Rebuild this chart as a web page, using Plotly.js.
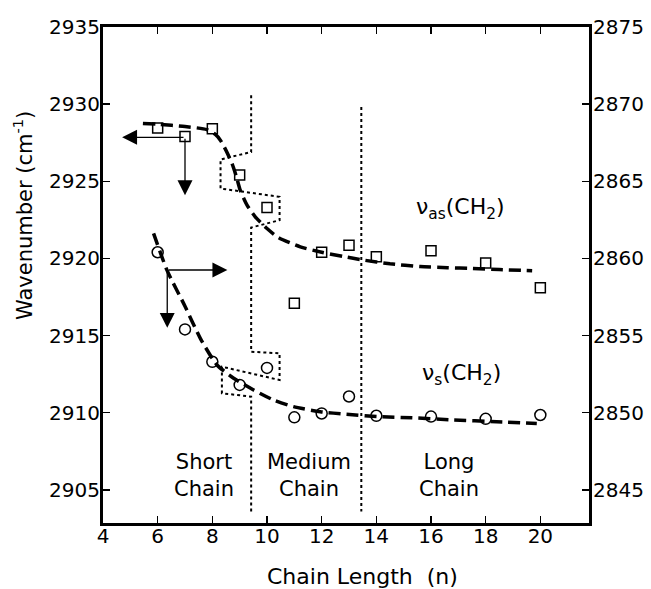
<!DOCTYPE html>
<html><head><meta charset="utf-8">
<script src="https://cdn.plot.ly/plotly-3.0.1.min.js"></script>
<style>html,body{margin:0;padding:0;background:#fff}</style>
</head><body><div id="chart" style="width:651px;height:589px"></div>
<script>
// measured data
const chainLength = [6, 7, 8, 9, 10, 11, 12, 13, 14, 16, 18, 20];
const nuAs = [2928.45, 2927.9, 2928.4, 2925.4, 2923.3, 2917.1, 2920.4, 2920.85, 2920.1, 2920.5, 2919.7, 2918.1];
const nuS = [2860.4, 2855.4, 2853.3, 2851.8, 2852.9, 2849.7, 2849.95, 2851.05, 2849.8, 2849.75, 2849.6, 2849.85];
// fitted curves
const fitAsX = [5.46, 6, 7, 7.8, 8.1, 8.3, 8.5, 8.72, 8.88, 9.02, 9.27, 9.57, 10, 10.42, 11.22, 12, 12.8, 13.5, 14.5, 15.6, 16.6, 17.5, 18.5, 19.7];
const fitAsY = [2928.75, 2928.7, 2928.55, 2928.35, 2928.05, 2927.65, 2927.0, 2926.15, 2925.3, 2924.42, 2923.45, 2922.7, 2921.94, 2921.35, 2920.75, 2920.4, 2920.12, 2919.9, 2919.65, 2919.47, 2919.4, 2919.35, 2919.28, 2919.2];
const fitSX = [5.85, 6.34, 7.0, 7.56, 8.17, 8.78, 9.51, 10.24, 10.97, 11.95, 12.9, 14.1, 15.3, 16.8, 18.4, 19.87];
const fitSY = [2861.62, 2859.24, 2856.9, 2854.82, 2853.09, 2852.23, 2851.47, 2850.82, 2850.39, 2850.06, 2849.9, 2849.74, 2849.67, 2849.53, 2849.42, 2849.3];
// region boundaries
const boundary1X = [9.42, 9.42, 8.3, 8.3, 10.46, 10.46, 9.42, 9.42, 10.46, 10.46, 8.35, 8.35, 9.42, 9.42];
const boundary1Y = [2930.58, 2926.9, 2926.41, 2924.53, 2923.99, 2922.48, 2922.0, 2913.95, 2913.85, 2912.12, 2912.98, 2911.26, 2911.04, 2903.6];
const boundary2X = [13.45, 13.45];
const boundary2Y = [2929.82, 2903.6];
const xTicks = [4, 6, 8, 10, 12, 14, 16, 18, 20];
const regionLabels = ['Short<br>Chain', 'Medium<br>Chain', 'Long<br>Chain'];
const regionLabelX = [7.7, 11.52, 16.67];

const F = 'DejaVu Sans, Arial, sans-serif';
const traces = [
  {x: boundary1X, y: boundary1Y, mode: 'lines', line: {color: '#000', width: 2, dash: 'dot'}, hoverinfo: 'skip'},
  {x: boundary2X, y: boundary2Y, mode: 'lines', line: {color: '#000', width: 2, dash: 'dot'}, hoverinfo: 'skip'},
  {x: fitAsX, y: fitAsY, mode: 'lines', line: {color: '#000', width: 3.5, dash: '12px,6px', shape: 'spline', smoothing: 0.6}},
  {x: fitSX, y: fitSY, yaxis: 'y2', mode: 'lines', line: {color: '#000', width: 3.5, dash: '12px,6px', shape: 'spline', smoothing: 0.6}},
  {x: chainLength, y: nuAs, mode: 'markers', marker: {symbol: 'square-open', size: 10, color: '#000', line: {width: 1.5}}},
  {x: chainLength, y: nuS, yaxis: 'y2', mode: 'markers', marker: {symbol: 'circle-open', size: 11, color: '#000', line: {width: 1.5}}}
];

const arrow = (x, y, ax, ay) => ({x: x, y: y, ax: ax, ay: ay, xref: 'x', yref: 'y', axref: 'x', ayref: 'y',
  text: '', showarrow: true, arrowhead: 2, arrowsize: 2.3, arrowwidth: 1.3, arrowcolor: '#000'});

const PL = 103, PT = 27, PW = 486, PH = 496;
const annotations = [
  arrow(4.7, 2927.85, 7.0, 2927.85),
  arrow(7.0, 2924.1, 7.0, 2927.85),
  arrow(8.55, 2919.25, 6.35, 2919.25),
  arrow(6.35, 2915.5, 6.35, 2919.25),
  {x: 17.07, y: 2923.25, xref: 'x', yref: 'y', text: 'ν<sub>as</sub>(CH<sub>2</sub>)', showarrow: false, font: {family: F, size: 22, color: '#000'}},
  {x: 17.12, y: 2912.45, xref: 'x', yref: 'y', text: 'ν<sub>s</sub>(CH<sub>2</sub>)', showarrow: false, font: {family: F, size: 22, color: '#000'}},
  {x: (362 - PL) / PW, y: 1 - (576 - PT) / PH, xref: 'paper', yref: 'paper', xanchor: 'center', yanchor: 'middle',
   text: 'Chain Length\u00a0 (n)', showarrow: false, font: {family: F, size: 22, color: '#000'}},
  {x: (23 - PL) / PW, y: 1 - (216 - PT) / PH, xref: 'paper', yref: 'paper', xanchor: 'center', yanchor: 'middle',
   text: 'Wavenumber (cm<sup>-1</sup>)', textangle: -90, showarrow: false, font: {family: F, size: 21, color: '#000'}}
];
regionLabels.forEach((t, i) => annotations.push({x: regionLabelX[i], y: 2905.93, xref: 'x', yref: 'y', text: t,
  showarrow: false, font: {family: F, size: 21, color: '#000'}}));

const axBase = {showgrid: false, zeroline: false, showline: true, linecolor: '#000', linewidth: 3,
  ticks: 'inside', ticklen: 7, tickwidth: 1.5, tickcolor: '#000', tickfont: {family: F, size: 20, color: '#000'}};

const layout = {
  width: 651, height: 589, showlegend: false,
  margin: {l: PL, r: 62, t: PT, b: 66},
  paper_bgcolor: '#fff', plot_bgcolor: '#fff',
  xaxis: Object.assign({}, axBase, {range: [4, 21.78], tickvals: xTicks, mirror: 'ticks', ticklabelstandoff: -7}),
  yaxis: Object.assign({}, axBase, {range: [2902.85, 2935], tick0: 2905, dtick: 5, ticklabelstandoff: -4}),
  yaxis2: Object.assign({}, axBase, {range: [2842.85, 2875], tick0: 2845, dtick: 5, overlaying: 'y', side: 'right', ticklabelstandoff: -3}),
  annotations: annotations
};
Plotly.newPlot('chart', traces, layout, {displayModeBar: false, staticPlot: true});
</script></body></html>
